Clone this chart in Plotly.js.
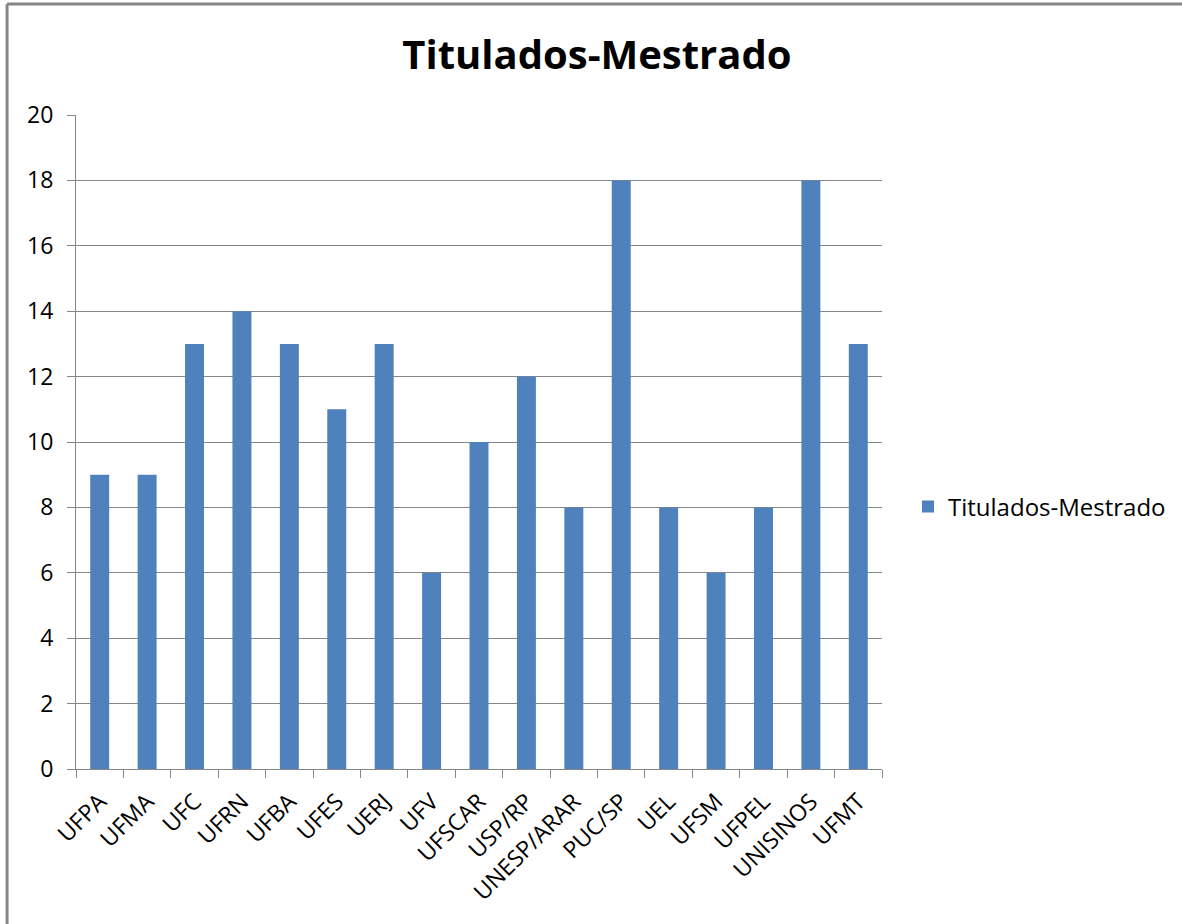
<!DOCTYPE html>
<html>
<head>
<meta charset="utf-8">
<script src="https://cdn.plot.ly/plotly-3.0.1.min.js"></script>
<style>
html,body{margin:0;padding:0;background:#fff;}
#chart{width:1182px;height:924px;}
</style>
</head>
<body>
<div id="chart"></div>
<script>
const categories = ["UFPA","UFMA","UFC","UFRN","UFBA","UFES","UERJ","UFV","UFSCAR","USP/RP","UNESP/ARAR","PUC/SP","UEL","UFSM","UFPEL","UNISINOS","UFMT"];
const values = [9,9,13,14,13,11,13,6,10,12,8,18,8,6,8,18,13];
const seriesName = "Titulados-Mestrado";
const chartTitle = "Titulados-Mestrado";
const yTicks = [0,2,4,6,8,10,12,14,16,18,20];

const font = "Open Sans, Noto Sans, sans-serif";
const W = 1182, H = 924, L = 76, R = 299, T = 115, B = 155;
const pw = W - L - R, ph = H - T - B;
function px(x){ return (x - L) / pw; }
function py(y){ return (H - B - y) / ph; }

const trace = {
  type: "bar",
  x: categories,
  y: values,
  name: seriesName,
  marker: {color: "#4F81BD"},
  showlegend: true
};

const layout = {
  width: W, height: H,
  margin: {l: L, r: R, t: T, b: B, pad: 0},
  paper_bgcolor: "#ffffff",
  plot_bgcolor: "#ffffff",
  bargap: 0.6,
  title: {text: "<b>" + chartTitle + "</b>", font: {family: font, size: 40, color: "#000"}, x: 0.505, xref: "container", y: 1 - 55/H, yref: "container", yanchor: "middle"},
  xaxis: {
    type: "category",
    tickangle: -45,
    tickson: "boundaries",
    ticks: "outside",
    ticklen: 8,
    tickcolor: "#868686",
    showline: true,
    linecolor: "#868686",
    linewidth: 1,
    showgrid: false,
    ticklabelstandoff: 9,
    tickfont: {family: font, size: 23, color: "#000"},
    automargin: false
  },
  yaxis: {
    range: [0, 20],
    tickvals: yTicks,
    ticks: "outside",
    ticklen: 8,
    tickcolor: "#868686",
    showline: true,
    linecolor: "#868686",
    showgrid: true,
    gridcolor: "#868686",
    gridwidth: 1,
    zeroline: false,
    ticklabelstandoff: 9,
    tickfont: {family: font, size: 23, color: "#000"},
    automargin: false
  },
  legend: {
    x: px(908), y: py(507), xanchor: "left", yanchor: "middle",
    font: {family: font, size: 24, color: "#000"},
    bgcolor: "rgba(0,0,0,0)"
  },
  shapes: [
    {type: "line", xref: "paper", yref: "paper", x0: px(7), x1: px(W + 10), y0: py(4), y1: py(4), line: {color: "#868686", width: 3}},
    {type: "line", xref: "paper", yref: "paper", x0: px(7), x1: px(7), y0: py(4), y1: py(H + 10), line: {color: "#868686", width: 3}}
  ]
};

Plotly.newPlot("chart", [trace], layout, {displayModeBar: false});
</script>
</body>
</html>
